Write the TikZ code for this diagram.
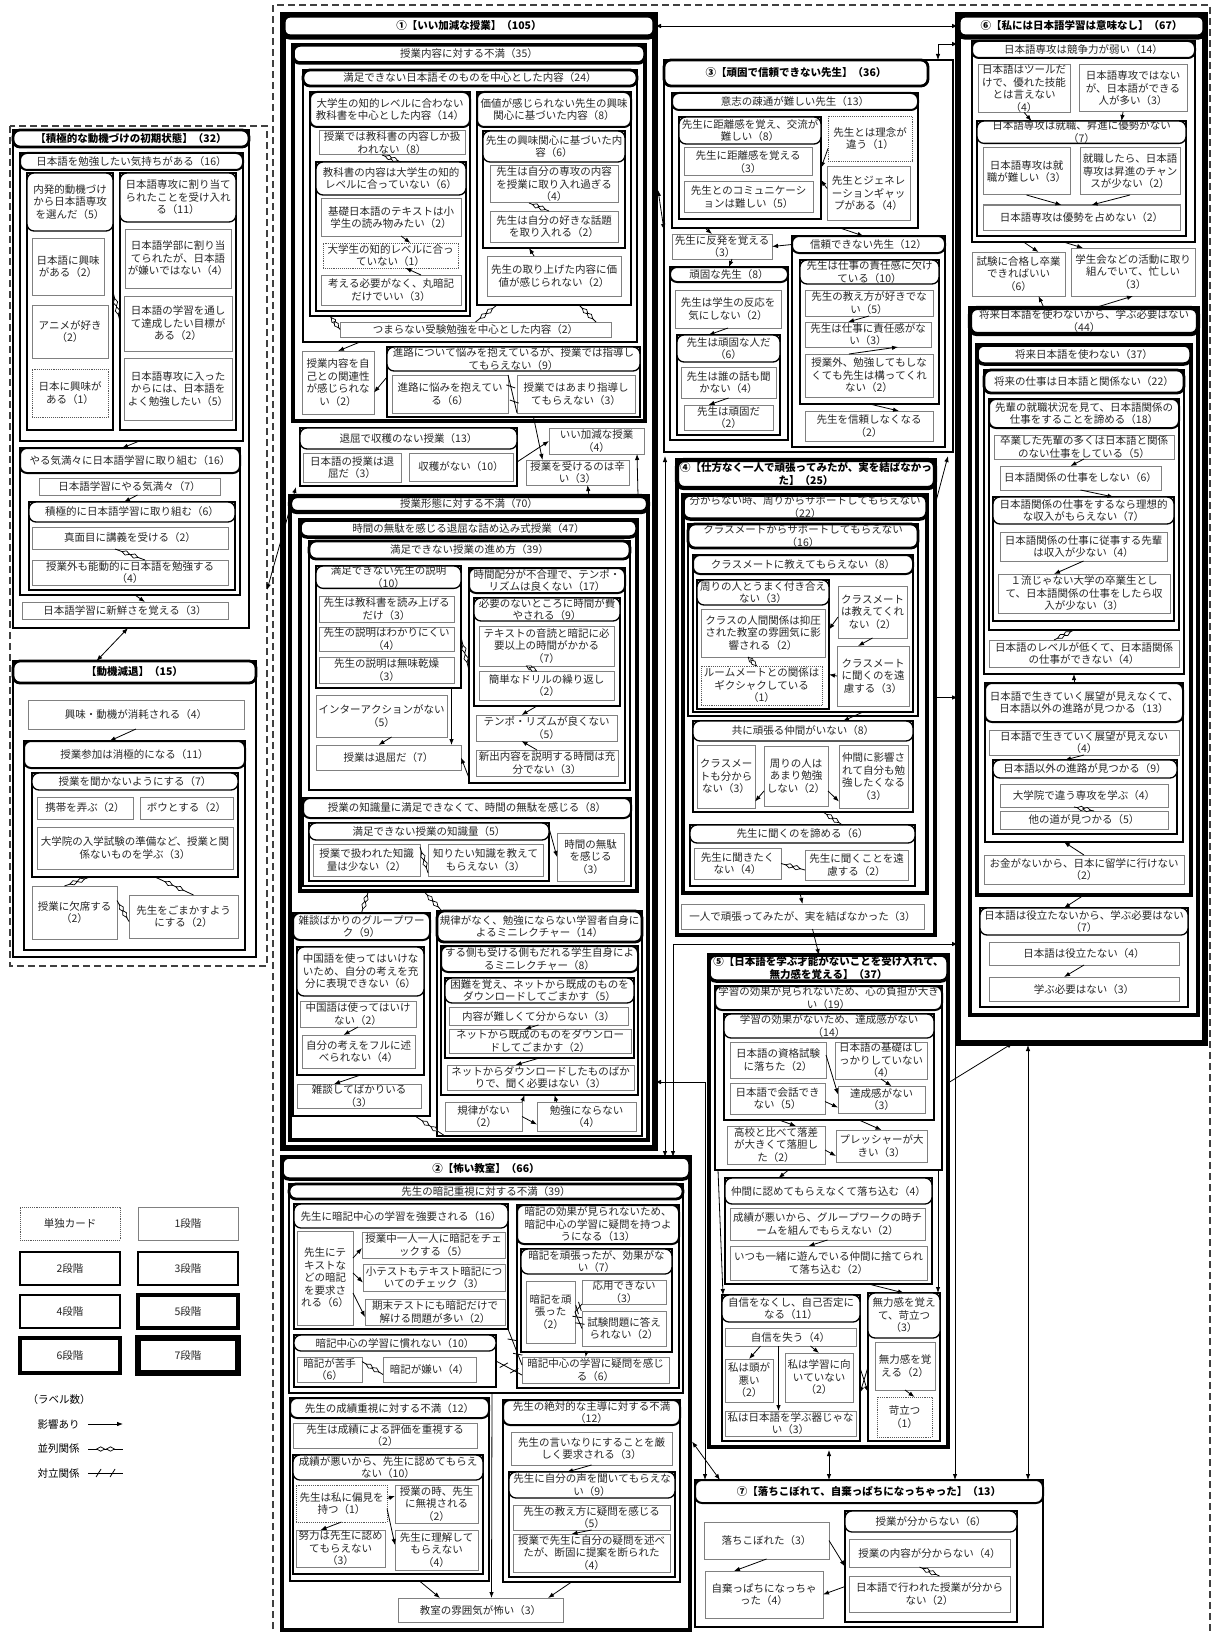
\documentclass[tikz,border=0pt]{standalone}
\usepackage{fontspec}
\setmainfont{Noto Sans CJK JP}
\XeTeXlinebreaklocale "ja"
\XeTeXlinebreakskip=0pt plus 1pt
\usetikzlibrary{arrows.meta,calc,decorations.markings}
\newcommand\bxfont{\fontsize{10.5}{12.5}\selectfont}
\tikzset{
 base/.style={draw, fill=white, inner sep=0pt, outer sep=0pt, align=flush center, font=\bxfont, text=black!85},
 c0/.style={base, densely dotted, draw=black!65, line width=0.9pt},
 c1/.style={base, draw=black!50, line width=1pt},
 c2/.style={base, line width=1.3pt},
 c3/.style={base, line width=2pt},
 c4/.style={base, line width=2.8pt},
 c5/.style={base, line width=3.5pt},
 c6/.style={base, line width=4.3pt},
 c7/.style={base, line width=5.2pt},
 pl/.style={rounded corners=7pt},
 hb/.style={font=\bfseries\bxfont, text=black},
 arr/.style={-{Latex[length=6pt,width=4.5pt]}, line width=0.8pt},
 arr2/.style={{Latex[length=6pt,width=4.5pt]}-{Latex[length=6pt,width=4.5pt]}, line width=0.8pt},
 para/.style={line width=0.8pt, decoration={markings,
   mark=at position 0.36 with {\draw[fill=white,line width=0.7pt] (-4pt,0)--(0,2.2pt)--(4pt,0)--(0,-2.2pt)--cycle;},
   mark=at position 0.64 with {\draw[fill=white,line width=0.7pt] (-4pt,0)--(0,2.2pt)--(4pt,0)--(0,-2.2pt)--cycle;}}, postaction={decorate}},
 contra/.style={line width=0.8pt, decoration={markings,
   mark=at position 0.3 with {\draw[line width=0.8pt] (-2.5pt,-4pt)--(2.5pt,4pt);},
   mark=at position 0.7 with {\draw[line width=0.8pt] (-2.5pt,-4pt)--(2.5pt,4pt);}}, postaction={decorate}},
 dashfr/.style={line width=1.3pt, draw=black!75, dash pattern=on 7pt off 4pt},
}
\newcommand\bx[7]{%
 \pgfmathsetmacro\bxw{#4-#2}%
 \pgfmathsetmacro\bxh{#5-#3}%
 \pgfmathsetmacro\bxt{max(#4-#2-5,6)}%
 \node[#6,anchor=north west,minimum width=\bxw pt,minimum height=\bxh pt,text width=\bxt pt] (#1) at (#2,#3) {#7};}
\newcommand\grp[8]{\bx{#1}{#2}{#3}{#4}{#5}{#7}{}\bx{#1h}{#2}{#3}{#4}{#6}{#7,pl}{#8}}
\begin{document}
\begin{tikzpicture}[x=1pt,y=-1pt]
\useasboundingbox (0,0) rectangle (1217,1632);
\draw[dashfr] (10,126) rectangle (267,966);
\draw[dashfr] (273,1640) -- (273,5) -- (1210,5) -- (1210,1640);

%% ---------- left: A
\bx{A}{13}{130}{249}{628}{c4}{}
\bx{Ah}{13}{130}{249}{147}{c4,pl,hb}{【積極的な動機づけの初期状態】（32）}
\grp{A1}{20}{153}{243}{441}{170}{c3}{日本語を勉強したい気持ちがある（16）}
\grp{A11}{27}{173}{113}{430}{231}{c2}{内発的動機づけから日本語専攻を選んだ（5）}
\bx{a1}{32}{238}{104}{295}{c1}{日本語に興味がある（2）}
\bx{a2}{32}{305}{108}{358}{c1}{アニメが好き（2）}
\bx{a3}{32}{369}{108}{417}{c0}{日本に興味がある（1）}
\grp{A12}{120}{173}{236}{430}{222}{c2}{日本語専攻に割り当てられたことを受け入れる（11）}
\bx{a4}{125}{229}{231}{288}{c1}{日本語学部に割り当てられたが、日本語が嫌いではない（4）}
\bx{a5}{124}{296}{232}{351}{c1}{日本語の学習を通して達成したい目標がある（2）}
\bx{a6}{124}{358}{232}{420}{c1}{日本語専攻に入ったからには、日本語をよく勉強したい（5）}
\grp{A2}{20}{448}{240}{595}{473}{c3}{やる気満々に日本語学習に取り組む（16）}
\bx{a7}{39}{478}{220}{495}{c1}{日本語学習にやる気満々（7）}
\grp{A21}{29}{502}{235}{590}{522}{c2}{積極的に日本語学習に取り組む（6）}
\bx{a8}{32}{527}{228}{549}{c1}{真面目に講義を受ける（2）}
\bx{a9}{32}{560}{228}{585}{c1}{授業外も能動的に日本語を勉強する（4）}
\bx{a10}{22}{602}{228}{619}{c1}{日本語学習に新鮮さを覚える（3）}

%% ---------- left: B
\bx{B}{13}{661}{256}{957}{c4}{}
\bx{Bh}{13}{661}{256}{683}{c4,pl,hb}{【動機減退】（15）}
\bx{b1}{28}{700}{244}{729}{c1}{興味・動機が消耗される（4）}
\grp{B1}{24}{741}{245}{950}{768}{c3}{授業参加は消極的になる（11）}
\grp{B11}{32}{773}{238}{877}{790}{c2}{授業を聞かないようにする（7）}
\bx{b2}{37}{797}{133}{819}{c1}{携帯を弄ぶ（2）}
\bx{b3}{140}{797}{233}{819}{c1}{ボウとする（2）}
\bx{b4}{37}{827}{233}{869}{c1}{大学院の入学試験の準備など、授業と関係ないものを学ぶ（3）}
\bx{b5}{32}{886}{117}{939}{c1}{授業に欠席する（2）}
\bx{b6}{129}{895}{238}{938}{c1}{先生をごまかすようにする（2）}

%% ---------- legend
\bx{L0}{20}{1207}{120}{1240}{c0}{単独カード}
\bx{L1}{138}{1207}{238}{1240}{c1}{1段階}
\bx{L2}{20}{1252}{120}{1285}{c2}{2段階}
\bx{L3}{138}{1252}{238}{1285}{c3}{3段階}
\bx{L4}{20}{1295}{120}{1328}{c4}{4段階}
\bx{L5}{138}{1295}{238}{1328}{c5}{5段階}
\bx{L6}{20}{1338}{120}{1373}{c6}{6段階}
\bx{L7}{138}{1338}{238}{1373}{c7}{7段階}
\node[anchor=west,font=\bxfont] (Lk) at (24,1399) {（ラベル数）};
\node[anchor=west,font=\bxfont] (Le1) at (34,1424) {影響あり};
\node[anchor=west,font=\bxfont] (Le2) at (34,1449) {並列関係};
\node[anchor=west,font=\bxfont] (Le3) at (34,1473) {対立関係};
\draw[arr] ($(Le1.east)+(5,0)$) -- ($(Le1.east)+(40,0)$);
\draw[para] ($(Le2.east)+(5,0)$) -- ($(Le2.east)+(40,0)$);
\draw[contra] ($(Le3.east)+(5,0)$) -- ($(Le3.east)+(40,0)$);

%% ---------- block 1
\bx{C}{283}{15}{655}{1148}{c7}{}
\bx{Ch}{283}{15}{655}{37}{c7,pl,hb}{①【いい加減な授業】（105）}
\grp{C1}{293}{45}{645}{421}{63}{c5}{授業内容に対する不満（35）}
\grp{C11}{303}{70}{637}{342}{86}{c4}{満足できない日本語そのものを中心とした内容（24）}
\grp{C111}{310}{92}{470}{316}{127}{c3}{大学生の知的レベルに合わない教科書を中心とした内容（14）}
\bx{c8}{319}{131}{465}{155}{c1}{授業では教科書の内容しか扱われない（8）}
\grp{C1111}{316}{162}{466}{311}{195}{c2}{教科書の内容は大学生の知的レベルに合っていない（6）}
\bx{c9}{321}{199}{461}{236}{c1}{基礎日本語のテキストは小学生の読み物みたい（2）}
\bx{c10}{323}{243}{458}{268}{c0}{大学生の知的レベルに合っていない（1）}
\bx{c11}{321}{275}{461}{305}{c1}{考える必要がなく、丸暗記だけでいい（3）}
\grp{C112}{477}{92}{631}{305}{127}{c3}{価値が感じられない先生の興味関心に基づいた内容（8）}
\grp{C1121}{483}{131}{625}{248}{162}{c2}{先生の興味関心に基づいた内容（6）}
\bx{c12}{490}{166}{618}{203}{c1}{先生は自分の専攻の内容を授業に取り入れ過ぎる（4）}
\bx{c13}{490}{211}{618}{242}{c1}{先生は自分の好きな話題を取り入れる（2）}
\bx{c14}{487}{256}{621}{296}{c1}{先生の取り上げた内容に価値が感じられない（2）}
\bx{tsu}{340}{322}{611}{337}{c1}{つまらない受験勉強を中心とした内容（2）}
\bx{c15}{302}{351}{374}{414}{c1}{授業内容を自己との関連性が感じられない（2）}
\grp{C12}{387}{347}{640}{417}{371}{c2}{進路について悩みを抱えているが、授業では指導してもらえない（9）}
\bx{c16}{392}{375}{508}{413}{c1}{進路に悩みを抱えている（6）}
\bx{c17}{517}{375}{635}{413}{c1}{授業ではあまり指導してもらえない（3）}
\grp{C2}{300}{428}{517}{486}{449}{c2}{退屈で収穫のない授業（13）}
\bx{c18a}{303}{453}{401}{482}{c1}{日本語の授業は退屈だ（3）}
\bx{c18b}{409}{453}{513}{481}{c1}{収穫がない（10）}
\bx{c18}{549}{428}{644}{454}{c1}{いい加減な授業（4）}
\bx{c19}{526}{460}{629}{485}{c1}{授業を受けるのは辛い（3）}
\grp{C3}{290}{496}{648}{1140}{512}{c6}{授業形態に対する不満（70）}
\grp{C31}{300}{520}{637}{891}{537}{c5}{時間の無駄を感じる退屈な詰め込み式授業（47）}
\grp{C311}{309}{541}{630}{790}{559}{c4}{満足できない授業の進め方（39）}
\grp{C3111}{316}{566}{461}{688}{584}{c2}{満足できない先生の説明（10）}
\bx{c20a}{319}{596}{454}{622}{c1}{先生は教科書を読み上げるだけ（3）}
\bx{c20b}{319}{627}{454}{651}{c1}{先生の説明はわかりにくい（4）}
\bx{c20c}{319}{657}{454}{683}{c1}{先生の説明は無味乾燥（3）}
\bx{c21}{316}{695}{447}{737}{c1}{インターアクションがない（5）}
\bx{c20}{316}{745}{461}{770}{c1}{授業は退屈だ（7）}
\grp{C3112}{469}{568}{625}{783}{593}{c3}{時間配分が不合理で、テンポ・リズムは良くない（17）}
\grp{C31121}{474}{598}{620}{706}{621}{c2}{必要のないところに時間が費やされる（9）}
\bx{c22}{479}{626}{614}{666}{c1}{テキストの音読と暗記に必要以上の時間がかかる（7）}
\bx{c23}{479}{671}{614}{700}{c1}{簡単なドリルの繰り返し（2）}
\bx{c24}{476}{715}{617}{741}{c1}{テンポ・リズムが良くない（5）}
\bx{c25}{476}{750}{618}{776}{c1}{新出内容を説明する時間は充分でない（3）}
\grp{C312}{303}{798}{631}{886}{818}{c3}{授業の知識量に満足できなくて、時間の無駄を感じる（8）}
\grp{C3121}{309}{823}{549}{881}{840}{c2}{満足できない授業の知識量（5）}
\bx{c26}{313}{844}{420}{876}{c1}{授業で扱われた知識量は少ない（2）}
\bx{c27}{428}{844}{543}{876}{c1}{知りたい知識を教えてもらえない（3）}
\bx{c28}{557}{833}{624}{881}{c1}{時間の無駄を感じる（3）}
\grp{C32}{293}{913}{430}{1116}{940}{c3}{雑談ばかりのグループワーク（9）}
\grp{C321}{297}{947}{424}{1075}{996}{c2}{中国語を使ってはいけないため、自分の考えを充分に表現できない（6）}
\bx{c29}{300}{1001}{416}{1027}{c1}{中国語は使ってはいけない（2）}
\bx{c30}{302}{1035}{415}{1068}{c1}{自分の考えをフルに述べられない（4）}
\bx{c31}{297}{1084}{421}{1108}{c1}{雑談してばかりいる（3）}
\grp{C33}{437}{911}{642}{1136}{942}{c4}{規律がなく、勉強にならない学習者自身によるミニレクチャー（14）}
\grp{C331}{441}{946}{638}{1095}{972}{c3}{する側も受ける側もだれる学生自身によるミニレクチャー（8）}
\grp{C3311}{445}{978}{634}{1058}{1003}{c2}{困難を覚え、ネットから既成のものをダウンロードしてごまかす（5）}
\bx{c32}{449}{1007}{628}{1025}{c1}{内容が難しくて分からない（3）}
\bx{c33}{449}{1029}{631}{1053}{c1}{ネットから既成のものをダウンロードしてごまかす（2）}
\bx{c34}{447}{1065}{634}{1090}{c1}{ネットからダウンロードしたものばかりで、聞く必要はない（3）}
\bx{c35}{445}{1102}{522}{1131}{c1}{規律がない（2）}
\bx{c36}{537}{1102}{636}{1131}{c1}{勉強にならない（4）}

%% ---------- block 3
\bx{D}{664}{60}{953}{452}{c4}{}
\bx{Dh}{664}{60}{928}{86}{c4,pl,hb}{③【頑固で信頼できない先生】（36）}
\grp{D1}{672}{93}{918}{228}{110}{c3}{意志の疎通が難しい先生（13）}
\grp{D11}{679}{117}{821}{219}{144}{c2}{先生に距離感を覚え、交流が難しい（8）}
\bx{d1}{684}{148}{812}{176}{c1}{先生に距離感を覚える（3）}
\bx{d2}{684}{182}{813}{212}{c1}{先生とのコミュニケーションは難しい（5）}
\bx{d4}{828}{116}{912}{161}{c0}{先生とは理念が違う（1）}
\bx{d5}{827}{167}{910}{220}{c1}{先生とジェネレーションギャップがある（4）}
\bx{d6}{672}{234}{772}{259}{c1}{先生に反発を覚える（3）}
\grp{D2}{670}{267}{788}{440}{282}{c3}{頑固な先生（8）}
\bx{d7}{675}{290}{781}{328}{c1}{先生は学生の反応を気にしない（2）}
\grp{D21}{677}{335}{780}{435}{362}{c2}{先生は頑固な人だ（6）}
\bx{d8}{681}{367}{776}{398}{c1}{先生は誰の話も聞かない（4）}
\bx{d9}{684}{405}{773}{430}{c1}{先生は頑固だ（2）}
\grp{D3}{792}{236}{945}{447}{253}{c3}{信頼できない先生（12）}
\grp{D31}{800}{260}{939}{404}{284}{c2}{先生は仕事の責任感に欠けている（10）}
\bx{d10}{805}{290}{933}{316}{c1}{先生の教え方が好きでない（5）}
\bx{d11}{805}{322}{931}{347}{c1}{先生は仕事に責任感がない（3）}
\bx{d12}{805}{354}{933}{397}{c1}{授業外、勉強してもしなくても先生は構ってくれない（2）}
\bx{d13}{805}{411}{933}{441}{c1}{先生を信頼しなくなる（2）}

%% ---------- block 4
\bx{E}{677}{460}{935}{935}{c6}{}
\bx{Eh}{677}{460}{935}{488}{c6,pl,hb}{④【仕方なく一人で頑張ってみたが、実を結ばなかった】（25）}
\grp{E1}{683}{495}{927}{893}{519}{c5}{分からない時、周りからサポートしてもらえない（22）}
\grp{E11}{688}{524}{918}{716}{548}{c4}{クラスメートからサポートしてもらえない（16）}
\grp{E111}{693}{555}{913}{712}{574}{c3}{クラスメートに教えてもらえない（8）}
\grp{E1111}{697}{580}{829}{709}{605}{c2}{周りの人とうまく付き合えない（3）}
\bx{e1}{701}{609}{825}{657}{c1}{クラスの人間関係は抑圧された教室の雰囲気に影響される（2）}
\bx{e2}{701}{666}{822}{705}{c0}{ルームメートとの関係はギクシャクしている（1）}
\bx{e3}{838}{586}{907}{638}{c1}{クラスメートは教えてくれない（2）}
\bx{e4}{837}{646}{909}{706}{c1}{クラスメートに聞くのを遠慮する（3）}
\grp{E12}{693}{721}{913}{812}{741}{c2}{共に頑張る仲間がいない（8）}
\bx{e5}{697}{745}{755}{808}{c1}{クラスメートも分からない（3）}
\bx{e6}{764}{746}{828}{806}{c1}{周りの人はあまり勉強しない（2）}
\bx{e7}{839}{745}{908}{808}{c1}{仲間に影響されて自分も勉強したくなる（3）}
\grp{E13}{690}{825}{915}{886}{843}{c2}{先生に聞くのを諦める（6）}
\bx{e8}{694}{848}{781}{879}{c1}{先生に聞きたくない（4）}
\bx{e9}{805}{850}{908}{880}{c1}{先生に聞くことを遠慮する（2）}
\bx{e10}{681}{904}{924}{929}{c1}{一人で頑張ってみたが、実を結ばなかった（3）}

%% ---------- block 6
\bx{F}{958}{15}{1205}{1043}{c7}{}
\bx{Fh}{958}{15}{1205}{37}{c7,pl,hb}{⑥【私には日本語学習は意味なし】（67）}
\grp{F1}{972}{41}{1195}{242}{58}{c3}{日本語専攻は競争力が弱い（14）}
\bx{f1}{978}{65}{1070}{112}{c1}{日本語はツールだけで、優れた技能とは言えない（4）}
\bx{f2}{1079}{65}{1187}{112}{c1}{日本語専攻ではないが、日本語ができる人が多い（3）}
\grp{F11}{977}{121}{1186}{236}{143}{c2}{日本語専攻は就職、昇進に優勢がない（7）}
\bx{f3}{983}{148}{1070}{195}{c1}{日本語専攻は就職が難しい（3）}
\bx{f4}{1080}{148}{1180}{195}{c1}{就職したら、日本語専攻は昇進のチャンスが少ない（2）}
\bx{f5}{983}{205}{1180}{230}{c1}{日本語専攻は優勢を占めない（2）}
\bx{f6}{972}{252}{1065}{296}{c1}{試験に合格し卒業できればいい（6）}
\bx{f7}{1071}{248}{1195}{296}{c1}{学生会などの活動に取り組んでいて、忙しい（3）}
\grp{F2}{970}{308}{1198}{1015}{334}{c6}{将来日本語を使わないから、学ぶ必要はない（44）}
\grp{F21}{977}{345}{1191}{895}{364}{c5}{将来日本語を使わない（37）}
\grp{F211}{984}{370}{1184}{674}{393}{c4}{将来の仕事は日本語と関係ない（22）}
\grp{F2111}{989}{399}{1179}{630}{428}{c3}{先輩の就職状況を見て、日本語関係の仕事をすることを諦める（18）}
\bx{f8}{994}{435}{1174}{459}{c1}{卒業した先輩の多くは日本語と関係のない仕事をしている（5）}
\bx{f9}{1000}{466}{1161}{490}{c1}{日本語関係の仕事をしない（6）}
\grp{F21111}{993}{497}{1174}{621}{524}{c2}{日本語関係の仕事をするなら理想的な収入がもらえない（7）}
\bx{f10}{1000}{532}{1167}{561}{c1}{日本語関係の仕事に従事する先輩は収入が少ない（4）}
\bx{f11}{998}{574}{1170}{613}{c1}{１流じゃない大学の卒業生として、日本語関係の仕事をしたら収入が少ない（3）}
\bx{f12}{989}{640}{1179}{667}{c1}{日本語のレベルが低くて、日本語関係の仕事ができない（4）}
\grp{F212}{985}{683}{1183}{842}{722}{c3}{日本語で生きていく展望が見えなくて、日本語以外の進路が見つかる（13）}
\bx{f13}{989}{730}{1179}{755}{c1}{日本語で生きていく展望が見えない（4）}
\grp{F2121}{993}{760}{1177}{834}{778}{c2}{日本語以外の進路が見つかる（9）}
\bx{f14}{1000}{784}{1168}{807}{c1}{大学院で違う専攻を学ぶ（4）}
\bx{f15}{1000}{811}{1168}{829}{c1}{他の道が見つかる（5）}
\bx{f16}{984}{855}{1184}{884}{c1}{お金がないから、日本に留学に行けない（2）}
\grp{F22}{980}{908}{1188}{1007}{935}{c2}{日本語は役立たないから、学ぶ必要はない（7）}
\bx{f17}{989}{942}{1179}{965}{c1}{日本語は役立たない（4）}
\bx{f18}{989}{977}{1179}{1001}{c1}{学ぶ必要はない（3）}

%% ---------- block 5
\bx{G}{709}{955}{948}{1447}{c5}{}
\bx{Gh}{709}{955}{948}{981}{c5,pl,hb}{⑤【日本語を学ぶ才能がないことを受け入れて、無力感を覚える】（37）}
\grp{G1}{715}{986}{942}{1170}{1010}{c3}{学習の効果が見られないため、心の負担が大きい（19）}
\grp{G11}{724}{1014}{934}{1120}{1038}{c2}{学習の効果がないため、達成感がない（14）}
\bx{g1}{730}{1042}{826}{1078}{c1}{日本語の資格試験に落ちた（2）}
\bx{g2}{835}{1042}{927}{1079}{c1}{日本語の基礎はしっかりしていない（4）}
\bx{g3}{730}{1083}{825}{1114}{c1}{日本語で会話できない（5）}
\bx{g4}{838}{1086}{925}{1113}{c1}{達成感がない（3）}
\bx{g5}{727}{1126}{825}{1164}{c1}{高校と比べて落差が大きくて落胆した（2）}
\bx{g6}{836}{1130}{927}{1162}{c1}{プレッシャーが大きい（3）}
\grp{G2}{725}{1178}{932}{1284}{1204}{c2}{仲間に認めてもらえなくて落ち込む（4）}
\bx{g7}{730}{1208}{925}{1240}{c1}{成績が悪いから、グループワークの時チームを組んでもらえない（2）}
\bx{g8}{730}{1246}{927}{1280}{c1}{いつも一緒に遊んでいる仲間に捨てられて落ち込む（2）}
\grp{G3}{722}{1295}{860}{1441}{1322}{c2}{自信をなくし、自己否定になる（11）}
\bx{g9}{725}{1328}{856}{1346}{c1}{自信を失う（4）}
\bx{g10}{725}{1359}{773}{1402}{c1}{私は頭が悪い（2）}
\bx{g11}{785}{1353}{853}{1402}{c1}{私は学習に向いていない（2）}
\bx{g12}{725}{1411}{856}{1436}{c1}{私は日本語を学ぶ器じゃない（3）}
\grp{G4}{868}{1293}{940}{1441}{1338}{c2}{無力感を覚えて、苛立つ（3）}
\bx{g13}{875}{1342}{935}{1390}{c1}{無力感を覚える（2）}
\bx{g14}{877}{1397}{932}{1437}{c0}{苛立つ（1）}

%% ---------- block 2
\bx{H}{282}{1157}{690}{1630}{c5}{}
\bx{Hh}{282}{1157}{690}{1179}{c5,pl,hb}{②【怖い教室】（66）}
\grp{H1}{289}{1184}{683}{1393}{1199}{c4}{先生の暗記重視に対する不満（39）}
\grp{H11}{294}{1204}{508}{1329}{1228}{c2}{先生に暗記中心の学習を強要される（16）}
\bx{h1}{297}{1231}{353}{1325}{c1}{先生にテキストなどの暗記を要求される（6）}
\bx{h2}{362}{1232}{505}{1258}{c1}{授業中一人一人に暗記をチェックする（5）}
\bx{h3}{363}{1264}{505}{1291}{c1}{小テストもテキスト暗記についてのチェック（3）}
\bx{h4}{365}{1299}{505}{1325}{c1}{期末テストにも暗記だけで解ける問題が多い（2）}
\grp{H12}{294}{1335}{496}{1387}{1351}{c2}{暗記中心の学習に慣れない（10）}
\bx{h5}{297}{1357}{362}{1382}{c1}{暗記が苦手（6）}
\bx{h6}{383}{1357}{476}{1382}{c1}{暗記が嫌い（4）}
\grp{H13}{517}{1205}{679}{1388}{1244}{c3}{暗記の効果が見られないため、暗記中心の学習に疑問を持つようになる（13）}
\grp{H131}{521}{1249}{672}{1352}{1274}{c2}{暗記を頑張ったが、効果がない（7）}
\bx{h7}{526}{1281}{575}{1343}{c1}{暗記を頑張った（2）}
\bx{h8}{582}{1280}{666}{1304}{c1}{応用できない（3）}
\bx{h9}{582}{1311}{666}{1346}{c1}{試験問題に答えられない（2）}
\bx{h10}{522}{1357}{669}{1383}{c1}{暗記中心の学習に疑問を感じる（6）}
\grp{H2}{290}{1398}{489}{1581}{1418}{c3}{先生の成績重視に対する不満（12）}
\bx{h11a}{293}{1423}{477}{1448}{c1}{先生は成績による評価を重視する（2）}
\grp{H21}{293}{1455}{483}{1574}{1480}{c2}{成績が悪いから、先生に認めてもらえない（10）}
\bx{h11}{296}{1485}{387}{1522}{c0}{先生は私に偏見を持つ（1）}
\bx{h12}{395}{1485}{478}{1523}{c1}{授業の時、先生に無視される（2）}
\bx{h13}{296}{1530}{385}{1567}{c1}{努力は先生に認めてもらえない（3）}
\bx{h14}{395}{1530}{478}{1570}{c1}{先生に理解してもらえない（4）}
\grp{H3}{503}{1400}{680}{1582}{1425}{c3}{先生の絶対的な主導に対する不満（12）}
\bx{h15}{511}{1432}{672}{1465}{c1}{先生の言いなりにすることを厳しく要求される（3）}
\grp{H31}{509}{1472}{675}{1577}{1498}{c2}{先生に自分の声を聞いてもらえない（9）}
\bx{h16}{513}{1505}{670}{1530}{c1}{先生の教え方に疑問を感じる（5）}
\bx{h17}{513}{1534}{670}{1572}{c1}{授業で先生に自分の疑問を述べたが、断固に提案を断られた（4）}
\bx{h18}{398}{1598}{563}{1622}{c1}{教室の雰囲気が怖い（3）}

%% ---------- block 7
\bx{I}{695}{1480}{1043}{1627}{c3}{}
\bx{Ih}{695}{1480}{1043}{1503}{c3,pl,hb}{⑦【落ちこぼれて、自棄っぱちになっちゃった】（13）}
\bx{i1}{704}{1522}{829}{1559}{c1}{落ちこぼれた（3）}
\bx{i2}{705}{1571}{823}{1618}{c1}{自棄っぱちになっちゃった（4）}
\grp{I1}{845}{1511}{1017}{1622}{1532}{c2}{授業が分からない（6）}
\bx{i3}{849}{1539}{1010}{1567}{c1}{授業の内容が分からない（4）}
\bx{i4}{849}{1576}{1010}{1612}{c1}{日本語で行われた授業が分からない（2）}

%% ================= connectors
% left
\draw[para] ($(A11.east)+(0,-10)$) -- ($(A12.west)+(0,20)$);
\draw[arr] ($(A1.south)+(8,0)$) -- ($(A2h.north)+(-8,0)$);
\draw[arr] ($(a7.south)+(8,0)$) -- ($(A21h.north)+(-8,0)$);
\draw[para] ($(a8.south)+(-15,0)$) -- ($(a9.north)+(15,0)$);
\draw[arr] ($(A2.south)+(5,0)$) -- ($(a10.north)+(20,0)$);
\draw[arr2] ($(A.south)+(-3,0)$) -- ($(Bh.north)+(-38,0)$);
\draw[arr] (b1.south) -- ($(B1h.north)+(-25,0)$);
\draw[para] ($(B11.south)+(-45,0)$) -- ($(b5.north)+(-10,0)$);
\draw[para] ($(B11.south)+(20,0)$) -- ($(b6.north)+(10,0)$);
\draw[para] ($(b5.east)+(0,-12)$) -- ($(b6.west)+(0,5)$);
\coordinate (Ld) at (267,590);
\draw[arr2] (Ld) -- ($(c18a.south west)+(-7,5)$);
% block 1
\draw[para] ($(C111.south)+(-60,0)$) -- (tsu.west);
\draw[para] ($(C112.south west)+(20,0)$) -- (tsu.north);
\draw[para] ($(C112.south)+(25,0)$) -- ($(tsu.north east)+(-15,0)$);
\draw[para] ($(c8.south)+(-10,0)$) -- ($(C1111h.north)+(10,0)$);
\draw[arr] ($(c9.south)+(10,0)$) -- ($(c10.north)+(20,0)$);
\draw[arr] ($(c11.north)+(30,0)$) -- ($(c10.south)+(15,0)$);
\draw[para] ($(c12.south)+(-25,0)$) -- ($(c13.north)+(-5,0)$);
\draw[arr] ($(c14.north)+(-20,0)$) -- ($(C1121.south)+(-25,0)$);
\draw[arr] ($(C11.south)+(-110,0)$) -- (c15.north);
\draw[arr] ($(C12.west)+(0,-5)$) -- ($(c15.east)+(0,10)$);
\draw[contra] (c16.north east) -- (c17.south west);
\draw[arr] ($(C2.east)+(0,5)$) -- (c18.west);
\draw[arr] ($(C12.south)+(20,0)$) -- ($(c19.north)+(-35,0)$);
\draw[arr] ($(C3h.north east)+(-10,0)$) -- ($(c18.south east)+(-7,0)$);
\draw[arr] ($(C3h.north)+(120,0)$) -- ($(c19.south)+(10,0)$);
\draw[arr] ($(C3111.south)+(63,0)$) -- ($(c20.north)+(63,0)$);
\draw[arr] ($(c21.south)+(10,0)$) -- ($(c20.north)+(-10,0)$);
\draw[arr] ($(C3112.south west)+(0,-5)$) -- (c20.east);
\draw[para] ($(C3111.east)+(0,10)$) -- ($(C3112.west)+(0,-5)$);
\draw[para] ($(c22.south)+(-20,0)$) -- ($(c23.north)+(-10,0)$);
\draw[arr] ($(C31121.south)+(-10,0)$) -- ($(c24.north)+(-25,0)$);
\draw[arr] ($(c25.north)+(-10,0)$) -- ($(c24.south)+(-25,0)$);
\draw[para] ($(c26.north east)+(0,3)$) -- ($(c27.south west)+(0,-3)$);
\draw[arr] ($(C3121.north east)+(0,5)$) -- (c28.west);
\draw[para] ($(C31.south)+(-100,0)$) -- (C32h.north);
\draw[para] ($(C31.south)+(-45,0)$) -- ($(C33h.north west)+(5,0)$);
\draw[arr] (c29.south) -- ($(c30.north)+(-15,0)$);
\draw[arr] (C321.south) -- ($(c31.north)+(-25,0)$);
\draw[para] ($(C32.south east)+(-15,0)$) -- ($(C33.south west)+(8,0)$);
\draw[arr] (c32.south) -- ($(c33.north)+(-15,0)$);
\draw[arr] (C3311.south) -- ($(c34.north)+(-25,0)$);
\draw[arr] (c35.east) -- ($(c36.west)+(0,8)$);
\draw[arr] (c35.north east) -- ($(C331.south)+(-15,0)$);
\draw[arr] ($(c36.north)+(-30,0)$) -- ($(C331.south)+(15,0)$);
% block 3
\draw[arr] ($(d4.west)+(0,10)$) -- (D11.east);
\draw[arr] ($(d5.west)+(0,-5)$) -- ($(D11.east)+(0,12)$);
\draw[arr] ($(D1.south)+(-90,0)$) -- ($(d6.north)+(-10,0)$);
\draw[arr] (D3h.west) -- (d6.east);
\draw[arr] ($(D1.south)+(45,0)$) -- ($(D3h.north)+(-5,0)$);
\draw[arr] ($(d6.south)+(10,0)$) -- (D2h.north);
\draw[arr] (d7.south) -- ($(D21h.north)+(-20,0)$);
\draw[arr] (d8.south) -- ($(d9.north)+(-20,0)$);
\draw[arr] (d10.south) -- ($(d11.north)+(-20,0)$);
\draw[arr] ($(d12.north)+(-20,0)$) -- ($(d11.south)+(30,0)$);
\draw[arr] (D31.south) -- ($(d13.north)+(30,0)$);
% block 4
\draw[arr] ($(e3.west)+(0,5)$) -- ($(E1111.east)+(0,-15)$);
\draw[arr] (e3.south) -- ($(e4.north)+(-15,0)$);
\draw[arr] (e4.west) -- ($(E1111.east)+(0,30)$);
\draw[para] ($(e1.south)+(-15,0)$) -- ($(e2.north)+(-5,0)$);
\draw[arr] ($(E111.south)+(60,0)$) -- ($(E12h.north)+(40,0)$);
\draw[arr] ($(e6.west)+(0,15)$) -- ($(e5.east)+(0,25)$);
\draw[arr] ($(e6.east)+(0,15)$) -- ($(e7.west)+(0,25)$);
\draw[para] ($(E12.south)+(20,0)$) -- ($(E13h.north)+(40,0)$);
\draw[para] (e8.east) -- ($(e9.west)+(0,5)$);
\draw[arr] ($(E1.south)+(-5,0)$) -- (e10.north);
% block 6
\draw[arr] (f1.south) -- ($(F11h.north)+(-50,0)$);
\draw[arr] ($(f2.south)+(-10,0)$) -- ($(F11h.north)+(40,0)$);
\draw[arr] (f3.south) -- ($(f5.north)+(-20,0)$);
\draw[arr] (f4.south) -- ($(f5.north)+(10,0)$);
\draw[arr] ($(F1.south)+(-60,0)$) -- ($(f6.north)+(20,0)$);
\draw[arr] ($(F1.south)+(-20,0)$) -- ($(f7.north)+(-50,0)$);
\draw[arr] ($(F2h.north)+(-40,0)$) -- ($(f6.south)+(20,0)$);
\draw[arr] ($(F2h.north)+(10,0)$) -- (f7.south);
\draw[arr] (f8.south) -- ($(f9.north)+(-10,0)$);
\draw[arr] (f9.south) -- ($(F21111h.north)+(30,0)$);
\draw[arr] (f10.south) -- ($(f11.north)+(-30,0)$);
\draw[para] ($(F2111.south)+(-10,0)$) -- ($(f12.north)+(-30,0)$);
\draw[arr] ($(F212h.north)+(-10,0)$) -- ($(F211.south)+(-10,0)$);
\draw[arr] (f13.south) -- ($(F2121h.north)+(-20,0)$);
\draw[para] ($(f14.south)+(-10,0)$) -- ($(f15.north)+(10,0)$);
\draw[arr] (f16.north) -- ($(F212.south)+(-20,0)$);
\draw[arr] (F21.south) -- ($(F22h.north)+(-20,0)$);
\draw[arr] (f17.south) -- ($(f18.north)+(-20,0)$);
% block 5
\draw[arr] ($(g1.east)+(0,-5)$) -- ($(g4.west)+(0,-5)$);
\draw[arr] ($(g3.east)+(0,3)$) -- ($(g4.west)+(0,8)$);
\draw[arr] (g2.south) -- ($(g4.north)+(10,0)$);
\draw[arr] ($(G11.south)+(30,0)$) -- (g6.north);
\draw[arr] ($(G11.south)+(-50,0)$) -- ($(g5.north)+(20,0)$);
\draw[arr] ($(g5.east)+(0,5)$) -- ($(g6.west)+(0,10)$);
\draw[arr] ($(G1.south)+(-40,0)$) -- ($(G2h.north)+(-50,0)$);
\draw[arr] (g7.south) -- ($(g8.north)+(-20,0)$);
\draw[arr] ($(G2.south)+(40,0)$) -- (G4h.north);
\draw[arr] ($(G1.south west)+(3,0)$) -- ($(G3h.north west)+(1,0)$);
\draw[arr] ($(G1.south east)+(-4,0)$) -- ($(G4h.north east)+(-2,0)$);
\draw[arr] ($(g9.south)+(-30,0)$) -- (g10.north);
\draw[arr] ($(g9.south)+(20,0)$) -- (g11.north);
\draw[arr] ($(g9.south)+(-12,0)$) -- ($(g12.north)+(-12,0)$);
\draw[arr] (g13.south) -- ($(g14.north)+(10,0)$);
\draw[arr] (G3.east) -- ($(G4.west)+(0,25)$);
\draw[arr] (G4.west) -- ($(G3.east)+(0,25)$);
% block 2
\draw[arr] ($(h1.east)+(0,-20)$) -- ($(h2.west)+(0,3)$);
\draw[arr] ($(h1.east)+(0,-5)$) -- ($(h3.west)+(0,5)$);
\draw[arr] ($(h1.east)+(0,15)$) -- ($(h4.west)+(0,5)$);
\draw[para] ($(h5.east)+(0,-8)$) -- ($(h6.west)+(0,5)$);
\draw[contra] (h7.east) -- (h8.south west);
\draw[contra] (h7.east) -- (h9.west);
\draw[arr] ($(H131.south)+(-10,0)$) -- ($(h10.north)+(-10,0)$);
\draw[contra] (H11.south east) -- ($(h10.west)+(0,-5)$);
\draw[contra] (H12.east) -- ($(h10.west)+(0,5)$);
\draw[arr] ($(h11.east)+(0,-5)$) -- ($(h12.west)+(0,-8)$);
\draw[arr] ($(h11.east)+(0,5)$) -- ($(h14.west)+(0,-5)$);
\draw[arr] (h11.south) -- ($(h13.north)+(-20,0)$);
\draw[arr] (h15.south) -- ($(H31h.north)+(-25,0)$);
\draw[arr] (h16.south) -- ($(h17.north)+(-20,0)$);
\draw[arr] ($(H2.south)+(30,0)$) -- ($(h18.north west)+(42,0)$);
\draw[arr] ($(H1.south)+(6,0)$) -- ($(h18.north)+(11,0)$);
\draw[arr] ($(H3.south)+(-20,0)$) -- ($(h18.north east)+(-15,0)$);
% block 7
\draw[arr] (i1.south) -- ($(i2.north)+(-30,0)$);
\draw[arr] (i1.east) -- (I1.west);
\draw[arr] ($(I1.west)+(0,20)$) -- (i2.east);
\draw[para] ($(i3.south)+(-10,0)$) -- ($(i4.north)+(10,0)$);
% global
\draw[arr2] (Ch.east) -- (Fh.west);
\coordinate (q0) at ($(Dh.north east)+(10,0)$);
\draw[arr2] (q0) |- ($(Fh.south west)+(0,7)$);
\draw[arr2] ($(C.north east)+(3,175)$) -- ($(D.north west)+(0,170)$);
\coordinate (q1) at ($(D.south west)+(1,4)$);
\draw[arr2] (q1) -- (q1 |- Hh.north);
\coordinate (q2) at (673,944);
\coordinate (q2b) at (955,944);
\draw[arr] (q2) -- (q2 |- Hh.north);
\draw[arr] (q2) -- (q2 -| F.west);
\draw[arr] (q2b) -- (q2b |- Ih.north);
\coordinate (q3) at (705,1082);
\draw[arr] (q3) -- (q3 -| C.east);
\draw[arr] (q3) -- (q3 |- Ih.north);
\draw[arr2] ($(H.east)+(2,48)$) -- ($(Ih.north west)+(25,0)$);
\draw[arr] ($(E.north east)+(0,45)$) -- ($(D.south east)+(-5,4)$);
\draw[arr] (E.east) -- (E.east -| F.west);
\draw[arr] ($(G.north east)+(0,128)$) -- ($(F.south west)+(55,0)$);
\coordinate (q5) at ($(F.south west)+(70,2)$);
\draw[arr2] (q5) -- (q5 |- Ih.north);
\coordinate (q6) at ($(G.south west)+(120,3)$);
\draw[arr2] (q6) -- (q6 |- Ih.north);
\draw[arr] ($(e10.south)+(10,0)$) -- ($(Gh.north west)+(110,0)$);
\end{tikzpicture}
\end{document}
